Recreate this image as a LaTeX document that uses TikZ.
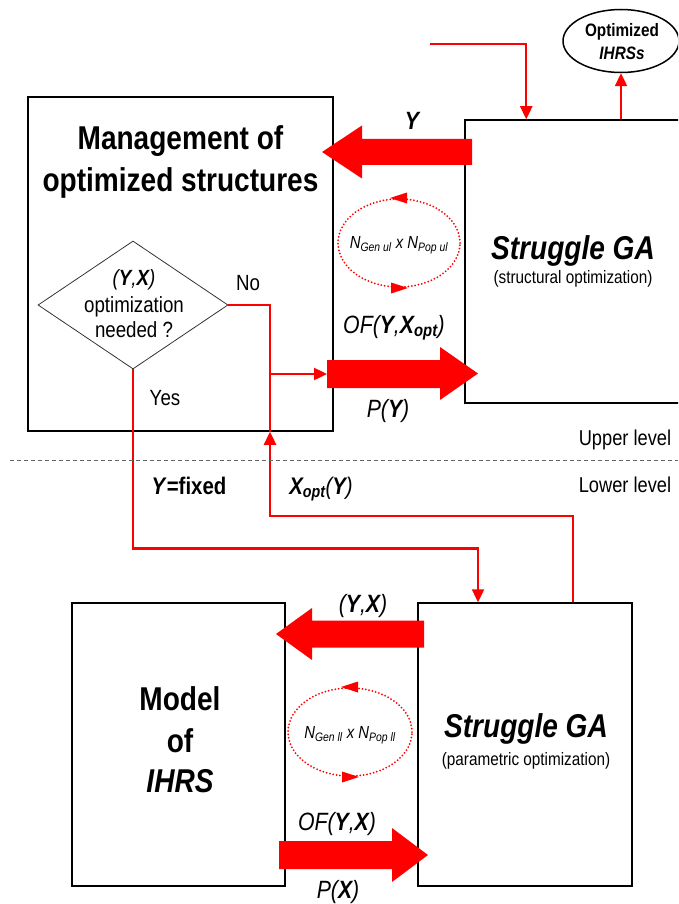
\documentclass[tikz,border=0pt]{standalone}
\usepackage{fontspec}
\setmainfont{Liberation Sans}[FakeStretch=0.85]
\usetikzlibrary{arrows.meta,shapes.geometric}
\definecolor{ared}{RGB}{255,0,0}
\definecolor{dgray}{RGB}{100,100,100}
\begin{document}
\begin{tikzpicture}[x=1pt,y=-1pt,
  box/.style={draw=black, line width=1.5pt, inner sep=0pt},
  flow/.style={draw=ared, line width=2.4pt},
  tip/.style={-{Triangle[length=13pt,width=12pt]}},
  bigarr/.style={fill=ared},
  loopst/.style={draw=ared, line width=2pt, dash pattern=on 0pt off 3.4pt, line cap=round, inner sep=0pt},
  txt/.style={inner sep=0pt, anchor=base, text=black},
  ttl/.style={txt, font=\fontsize{33}{38}\selectfont\bfseries},
  sga/.style={txt, font=\fontsize{33}{38}\selectfont\bfseries\itshape},
  sml/.style={txt, font=\fontsize{18}{22}\selectfont},
  dia/.style={txt, font=\fontsize{22}{26}\selectfont},
  lbl/.style={txt, font=\fontsize{25}{30}\selectfont\itshape},
  lvl/.style={txt, font=\fontsize{21.5}{26}\selectfont},
  nlab/.style={inner sep=0pt, font=\fontsize{17.5}{20}\selectfont\itshape},
  opt/.style={txt, font=\fontsize{18}{22}\selectfont\bfseries}
]
\useasboundingbox (0,0) rectangle (678,904);
\begin{scope}
\clip (0,0) rectangle (678,904);

% boxes
\node[box, minimum width=305pt, minimum height=334pt] (mgmt) at (180.5,264) {};
\node[box, minimum width=240pt, minimum height=283pt] (sga1) at (585,261.5) {};
\node[box, minimum width=213pt, minimum height=283pt] (model) at (178.5,744.5) {};
\node[box, minimum width=214pt, minimum height=283pt] (sga2) at (525,744.5) {};
\node[box, ellipse, minimum width=116pt, minimum height=63pt] (opt) at (621,41) {};
\node[draw=black!80, line width=0.8pt, diamond, inner sep=0pt, minimum width=190pt, minimum height=128pt] (dec) at (133,305) {};

% dotted loops
\node[loopst, ellipse, minimum width=122pt, minimum height=88pt] (lp1) at (399,243) {};
\node[loopst, ellipse, minimum width=124pt, minimum height=88pt] (lp2) at (350,732) {};
\fill[ared] ([xshift=-9pt]lp1.north) -- ([xshift=8pt,yshift=5.5pt]lp1.north) -- ([xshift=8pt,yshift=-5.5pt]lp1.north) -- cycle;
\fill[ared] ([xshift=9pt]lp1.south) -- ([xshift=-8pt,yshift=5.5pt]lp1.south) -- ([xshift=-8pt,yshift=-5.5pt]lp1.south) -- cycle;
\fill[ared] ([xshift=-9pt]lp2.north) -- ([xshift=8pt,yshift=5.5pt]lp2.north) -- ([xshift=8pt,yshift=-5.5pt]lp2.north) -- cycle;
\fill[ared] ([xshift=9pt]lp2.south) -- ([xshift=-8pt,yshift=5.5pt]lp2.south) -- ([xshift=-8pt,yshift=-5.5pt]lp2.south) -- cycle;
\node[nlab] (n1) at (399,245) {N\textsubscript{Gen ul} x N\textsubscript{Pop ul}};
\node[nlab] (n2) at (350,735) {N\textsubscript{Gen ll} x N\textsubscript{Pop ll}};

% big arrows
\fill[bigarr] (472,139) -- (362,139) -- (362,125.5) -- (322,152) -- (362,178.5) -- (362,165) -- (472,165) -- cycle;
\fill[bigarr] (327,360) -- (440,360) -- (440,347) -- (478,373.5) -- (440,400) -- (440,388) -- (327,388) -- cycle;
\fill[bigarr] (424,620.5) -- (312,620.5) -- (312,608) -- (276,634) -- (312,660) -- (312,647.5) -- (424,647.5) -- cycle;
\fill[bigarr] (279,841) -- (392,841) -- (392,828) -- (428,855) -- (392,882) -- (392,869) -- (279,869) -- cycle;
\coordinate (fa) at (327,374);

% connectors
\coordinate (in) at (430,44);
\draw[flow, tip] (in) -| ([xshift=62pt]sga1.north west);
\draw[flow, tip] (sga1.north west -| opt.south) -- (opt.south);
\coordinate (nx) at ([xshift=89.5pt]mgmt.south);
\draw[flow] (dec.east) -| (nx);
\draw[flow, tip] (nx |- fa) -- (fa);
\draw[flow, tip] (dec.south) -- ++(0,179) -| ([xshift=-47pt]sga2.north);
\draw[flow, tip] ([xshift=48pt]sga2.north) -- ++(0,-86) -| (nx);

% level separator
\coordinate (ls) at (10,460);
\coordinate (le) at (678,460);
\draw[dgray, line width=0.8pt, dash pattern=on 4pt off 3pt] (ls) -- (le);

% texts
\node[ttl] (t1) at (180.5,150) {Management of};
\node[ttl] (t2) at (180.5,192) {optimized structures};
\node[dia] (d1) at (134,285) {\textit{(\textbf{Y},\textbf{X})}};
\node[dia] (d2) at (134,312) {optimization};
\node[dia] (d3) at (134,337) {needed ?};
\node[dia] (no) at (248,290) {No};
\node[dia] (yes) at (165,405) {Yes};
\node[sga] (s1) at (573,259) {Struggle GA};
\node[sml] (s1b) at (573,283) {(structural optimization)};
\node[opt] (o1) at (622,37) {Optimized};
\node[opt] (o2) at (622,60) {\itshape IHRSs};
\node[lbl] (ly) at (412,130) {\bfseries Y};
\node[lbl] (lof1) at (394,333) {OF(\textbf{Y},\textbf{X}\textsubscript{\textbf{opt}})};
\node[lbl] (lp) at (388,417) {P(\textbf{Y})};
\node[lvl] (up) at (625,445) {Upper level};
\node[lvl] (lo) at (625,492) {Lower level};
\node[txt, font=\fontsize{24}{28}\selectfont\bfseries] (yf) at (189,494) {\textit{Y}=fixed};
\node[txt, font=\fontsize{24}{28}\selectfont\bfseries\itshape] (xo) at (321,494) {X\textsubscript{opt}\normalfont\itshape(\textbf{Y})};
\node[lbl] (lyx) at (363,612) {(\textbf{Y},\textbf{X})};
\node[lbl] (lof2) at (337,830) {OF(\textbf{Y},\textbf{X})};
\node[lbl] (lpx) at (338,898) {P(\textbf{X})};
\node[ttl] (m1) at (180,710) {Model};
\node[ttl] (m2) at (180,752) {of};
\node[ttl] (m3) at (180,792) {\itshape IHRS};
\node[sga] (s2) at (526,737) {Struggle GA};
\node[sml] (s2b) at (526,765) {(parametric optimization)};
\end{scope}
\end{tikzpicture}
\end{document}
